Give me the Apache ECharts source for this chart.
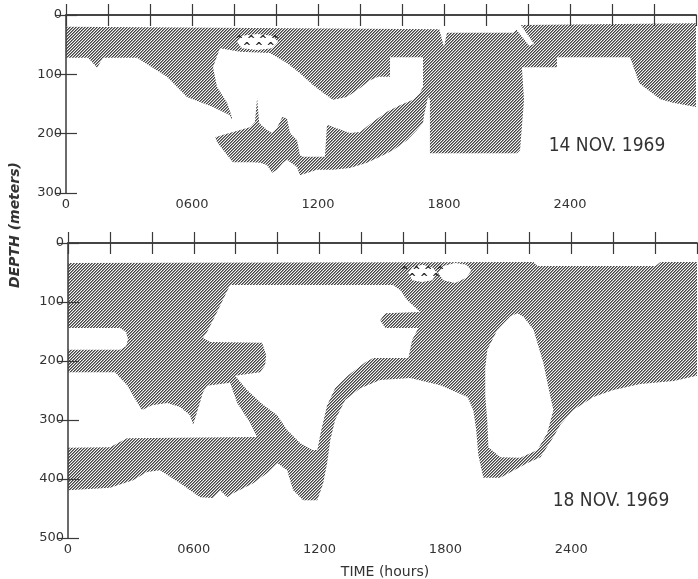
<!DOCTYPE html>
<html>
<head>
<meta charset="utf-8">
<script src="https://cdn.jsdelivr.net/npm/echarts@6/dist/echarts.min.js"></script>
<style>
  html, body { margin: 0; padding: 0; background: #ffffff; }
  #c { width: 698px; height: 579px; }
</style>
</head>
<body>
<div id="c"></div>
<script>
// ---------- axis / tick data ----------
const timeMin = 0, timeMax = 30, timeTickStep = 2;
const xLabelHours = [0, 6, 12, 18, 24];
const xLabelTexts = ['0', '0600', '1200', '1800', '2400'];
const topDepthMax = 300, botDepthMax = 500, depthStep = 100;

// ---------- 14 NOV 1969 : shaded (scattering layer) outline, [hour, depth m] ----------
const topShade = [
  [0,20],[17.8,24],[17.95,30],[21.3,30],[21.7,17],[30,14],
  [30,155],[28.9,148],[28.3,142],[27.3,115],[26.86,71],[23.38,71],[23.38,88],[21.71,88],
  [21.81,143],[21.62,228],[21.48,233],[17.33,233],[17.33,143],[17.24,138],
  [17.05,169],[17.0,182],
  [16.71,194],[16.24,211],[15.57,228],[14.95,239],[14.33,249],[13.52,258],[12.71,261],[11.95,261],
  [11.14,270],[11.0,256],[10.52,244],[10.33,249],[10.05,261],[9.81,266],[9.57,253],[9.24,249],
  [8.9,248],[7.95,248],[7.67,236],[7.19,214],[7.1,206],
  [7.95,197],[8.76,189],[9.0,180],[9.1,140],[9.2,182],[9.57,194],[9.81,199],[10.05,190],[10.3,172],
  [10.52,174],[10.67,199],[11.0,211],[11.14,236],[11.29,239],[12.33,239],[12.43,185],[13.52,199],
  [14.0,197],[14.62,180],[15.29,163],[15.9,152],[16.52,143],[16.86,131],[17.0,121],
  [17.0,71],[15.43,71],[15.43,104],[14.86,104],[14.48,110],[14.0,123],[13.38,138],[12.71,143],
  [12.24,131],[11.76,118],[11.14,98],[10.52,81],[9.71,64],[8.29,62],[7.33,56],
  [7.0,88],[7.19,121],[7.67,148],[7.9,172],[7.9,177],
  [7.81,169],[7.0,155],[5.76,138],[4.81,104],[3.38,72],
  [1.76,72],[1.48,89],[1.05,72],[0,72]
];
// clear areas inside the 14 NOV layer
const topHoleFish = [[8.14,45],[8.38,35],[9.1,32],[9.81,35],[10.1,45],[9.81,56],[9.1,59],[8.38,56]];
const topHoleSlit = [[17.76,22],[18.19,22],[18.0,54]];
const topHoleNotch = [[21.24,15],[21.62,15],[22.29,49],[22.05,52]];
const topFishMark = [[9.1,45]];

// ---------- 18 NOV 1969 : shaded outline ----------
const botShade = [
  [0,34],[22.2,32],[22.39,39],[28.02,39],[28.26,32],[30,32],
  [30,225],[28.88,234],[27.3,239],[26.01,249],[25.06,261],[24.1,283],[23.48,308],[23.15,329],
  [22.53,363],[21.91,373],[20.62,398],[19.81,398],[19.57,359],[19.47,317],[19.33,283],[19.05,261],
  [17.76,241],[16.32,229],[14.89,232],[13.94,246],[13.22,266],[12.74,300],[12.51,334],[12.36,373],
  [12.17,407],[11.89,436],[11.22,436],[10.74,419],[10.45,385],[9.98,373],[9.5,390],[8.83,407],
  [7.88,424],[7.59,431],[7.26,419],[6.92,432],[6.3,431],[5.35,407],[4.39,385],[3.77,388],
  [3.1,402],[2.0,415],[0,419],
  [0,347],[2.0,346],[2.82,331],[9.02,329],[8.69,305],[8.07,271],[7.73,237],[6.63,242],[6.44,253],
  [6.16,286],[5.97,308],[5.82,292],[5.35,278],[4.73,271],[4.01,275],[3.53,283],[3.29,270],
  [2.82,241],[2.24,219],[0,219],
  [0,181],[2.48,181],[2.77,175],[2.86,163],[2.77,151],[2.48,144],[0,144]
];
const botHoleMiddle = [
  [7.73,71],[15.51,71],[15.85,80],[16.18,97],[16.8,117],[15.13,119],[14.89,131],[15.13,144],
  [16.71,144],[16.42,164],[16.23,195],[14.56,195],[14.18,202],[13.37,224],[12.74,246],[12.36,275],
  [12.08,317],[11.89,351],[11.65,351],[11.07,339],[10.45,317],[9.98,292],[9.26,273],[8.54,249],
  [7.97,225],[9.16,219],[9.4,207],[9.45,190],[9.26,169],[6.78,168],[6.44,161],[6.63,151],[7.11,117]
];
const botHoleTear = [
  [21.43,119],[21.72,125],[22.2,147],[22.67,203],[23.01,261],[23.15,283],[22.86,322],[22.39,351],
  [21.58,364],[20.62,363],[20.05,346],[20.0,303],[19.9,258],[19.9,212],[20.0,181],[20.48,147],[21.1,124]
];
const botHoleFish = [[16.23,51],[16.42,41],[16.9,37],[17.37,41],[17.61,51],[17.37,63],[16.9,66],[16.42,63]];
const botHoleBlob = [[17.66,51],[17.9,39],[18.47,34],[19.0,37],[19.24,46],[19.0,59],[18.47,68],[17.9,63]];
const botFishMark = [[16.9,51]];

// ---------- hatch pattern ----------
function makeHatch() {
  const c = document.createElement('canvas');
  c.width = 3; c.height = 3;
  const ctx = c.getContext('2d');
  const img = ctx.createImageData(3, 3);
  for (let y = 0; y < 3; y++) {
    for (let x = 0; x < 3; x++) {
      const k = (x + y) % 3;
      const v = k === 0 ? 68 : (k === 1 ? 140 : 245);
      const i = (y * 3 + x) * 4;
      img.data[i] = v; img.data[i+1] = v; img.data[i+2] = v; img.data[i+3] = 255;
    }
  }
  ctx.putImageData(img, 0, 0);
  return c;
}
const hatch = { image: makeHatch(), repeat: 'repeat' };

function polySeries(xi, yi, polys, fill, z) {
  return {
    type: 'custom', xAxisIndex: xi, yAxisIndex: yi, z: z, silent: true, animation: false, clip: true,
    data: polys.map((_, i) => [i, 0]),
    renderItem: function (params, api) {
      const pts = polys[params.dataIndex].map(p => api.coord(p));
      return { type: 'polygon', shape: { points: pts }, style: { fill: fill, stroke: null } };
    }
  };
}
function markSeries(xi, yi, pts, z) {
  return {
    type: 'custom', xAxisIndex: xi, yAxisIndex: yi, z: z, silent: true, animation: false,
    data: pts,
    renderItem: function (params, api) {
      const p = api.coord([api.value(0), api.value(1)]);
      return { type: 'text', x: p[0], y: p[1] + 2, style: {
        text: '^ ^ ^ ^\n ^ ^ ^', align: 'center', verticalAlign: 'middle',
        fontSize: 10, fontWeight: 'bold', lineHeight: 7, fill: '#222', fontFamily: 'DejaVu Sans' } };
    }
  };
}

const axisCol = '#3a3a3a';
const labelStyle = { color: '#333', fontSize: 13, fontFamily: 'DejaVu Sans' };
function xAx(grid, pos, showLabel) {
  return {
    type: 'value', gridIndex: grid, position: pos, min: timeMin, max: timeMax, interval: timeTickStep, z: 10,
    axisLine: { show: true, lineStyle: { color: axisCol, width: 1.5 } },
    axisTick: { show: true, inside: true, length: 11, lineStyle: { color: axisCol, width: 1.2 } },
    splitLine: { show: false },
    axisLabel: Object.assign({ show: showLabel, margin: 5, showMaxLabel: false,
      formatter: v => { const i = xLabelHours.indexOf(v); return i >= 0 ? xLabelTexts[i] : ''; } }, labelStyle)
  };
}
function yAx(grid, pos, max, showLabel) {
  return {
    type: 'value', gridIndex: grid, position: pos, inverse: true, min: 0, max: max, interval: depthStep, z: 10,
    axisLine: { show: pos === 'left', lineStyle: { color: axisCol, width: 1.5 } },
    axisTick: { show: true, inside: true, length: 11, lineStyle: { color: axisCol, width: 1.2 } },
    splitLine: { show: false },
    axisLabel: Object.assign({ show: showLabel, margin: 4 }, labelStyle)
  };
}

const dateFont = "'DejaVu Sans Condensed', 'DejaVu Sans', sans-serif";
const option = {
  backgroundColor: '#ffffff',
  animation: false,
  grid: [
    { left: 66, top: 15, width: 630, height: 178 },
    { left: 68, top: 243, width: 629, height: 295 }
  ],
  xAxis: [xAx(0, 'bottom', true), xAx(0, 'top', false), xAx(1, 'bottom', true), xAx(1, 'top', false)],
  yAxis: [yAx(0, 'left', topDepthMax, true), yAx(0, 'right', topDepthMax, false),
          yAx(1, 'left', botDepthMax, true), yAx(1, 'right', botDepthMax, false)],
  series: [
    polySeries(0, 0, [topShade], hatch, 2),
    polySeries(0, 0, [topHoleFish, topHoleSlit, topHoleNotch], '#ffffff', 3),
    markSeries(0, 0, topFishMark, 4),
    polySeries(2, 2, [botShade], hatch, 2),
    polySeries(2, 2, [botHoleMiddle, botHoleTear, botHoleFish, botHoleBlob], '#ffffff', 3),
    markSeries(2, 2, botFishMark, 4)
  ],
  graphic: [
    { type: 'text', x: 607, y: 146, style: { text: '14 NOV. 1969', align: 'center', verticalAlign: 'middle',
      fontSize: 19, fontFamily: dateFont, fill: '#333' } },
    { type: 'text', x: 611, y: 501, style: { text: '18 NOV. 1969', align: 'center', verticalAlign: 'middle',
      fontSize: 19, fontFamily: dateFont, fill: '#333' } },
    { type: 'text', x: 385, y: 572, style: { text: 'TIME (hours)', align: 'center', verticalAlign: 'middle',
      fontSize: 14, fontFamily: 'DejaVu Sans', fill: '#333' } },
    { type: 'text', x: 15, y: 225, rotation: Math.PI / 2, style: { text: 'DEPTH (meters)', align: 'center',
      verticalAlign: 'middle', fontSize: 14, fontWeight: 'bold', fontStyle: 'italic', fontFamily: 'DejaVu Sans', fill: '#333' } }
  ]
};
const chart = echarts.init(document.getElementById('c'), null, { renderer: 'canvas' });
chart.setOption(option);
</script>
</body>
</html>
